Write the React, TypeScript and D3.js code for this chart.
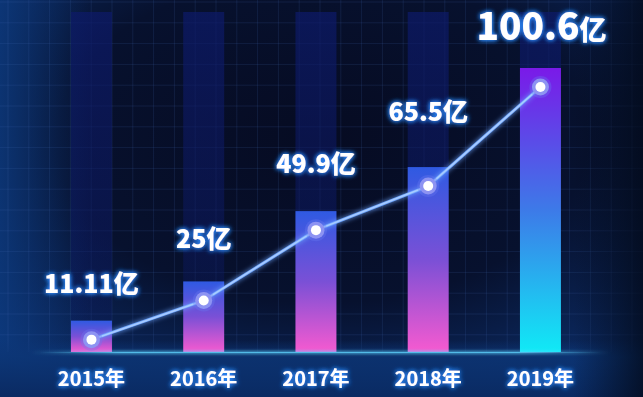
import React from "react";
import * as d3 from "d3";

const years = ["2015年", "2016年", "2017年", "2018年", "2019年"];
const values = [11.11, 25, 49.9, 65.5, 100.6];
const valueLabels = ["11.11", "25", "49.9", "65.5", "100.6"];
const unit = "亿";

const W = 643;
const H = 397;
const BASE = 352;
// label lift above each bar top (layout only)
const labelLift = [28, 33, 38, 46, 28];

export default function App() {
  const x = d3
    .scaleBand<string>()
    .domain(years)
    .range([37.3, 594.6])
    .paddingInner(0.635)
    .paddingOuter(0.3);
  const y = d3.scaleLinear().domain([0, 100.6]).range([BASE, 68]);
  const bw = x.bandwidth();

  const pts: [number, number][] = years.map((yr, i) => [
    (x(yr) as number) + bw / 2,
    y(values[i]) + 19,
  ]);
  const line = d3.line().curve(d3.curveLinear)(pts) as string;

  const gridX = d3.range(8, W, 20.8);
  const gridY = d3.range(2, BASE, 20.8);

  const font = "'Noto Sans CJK SC', 'Noto Sans', sans-serif";

  return (
    <svg width={W} height={H} style={{ position: "absolute", left: 0, top: 0, display: "block" }}>
      <defs>
        <radialGradient id="bg" cx="0.5" cy="0.35" r="0.75">
          <stop offset="0" stopColor="#060b22" />
          <stop offset="0.55" stopColor="#07112e" />
          <stop offset="1" stopColor="#0c2f6c" />
        </radialGradient>
        <linearGradient id="leftGlow" x1="0" x2="1" y1="0" y2="0">
          <stop offset="0" stopColor="#0d3c82" stopOpacity="0.75" />
          <stop offset="1" stopColor="#0d3c82" stopOpacity="0" />
        </linearGradient>
        <linearGradient id="rightShade" x1="0" x2="1" y1="0" y2="0">
          <stop offset="0" stopColor="#020816" stopOpacity="0" />
          <stop offset="1" stopColor="#020816" stopOpacity="0.75" />
        </linearGradient>
        <linearGradient id="bottomGlow" x1="0" x2="0" y1="0" y2="1">
          <stop offset="0" stopColor="#0c3575" stopOpacity="0" />
          <stop offset="0.3" stopColor="#0c3575" stopOpacity="0.85" />
          <stop offset="1" stopColor="#0a2a62" stopOpacity="1" />
        </linearGradient>
        <linearGradient id="col" x1="0" x2="0" y1="0" y2="1">
          <stop offset="0" stopColor="#0d1a6a" stopOpacity="0.7" />
          <stop offset="0.7" stopColor="#0d1a66" stopOpacity="0.45" />
          <stop offset="1" stopColor="#0d1a66" stopOpacity="0.15" />
        </linearGradient>
        <linearGradient id="barA" x1="0" x2="0" y1="0" y2="1">
          <stop offset="0" stopColor="#2f5ae2" />
          <stop offset="0.5" stopColor="#7a50d6" />
          <stop offset="1" stopColor="#f65ad0" />
        </linearGradient>
        <linearGradient id="barB" x1="0" x2="0" y1="0" y2="1">
          <stop offset="0" stopColor="#7a1ae8" />
          <stop offset="0.5" stopColor="#3d7ae8" />
          <stop offset="1" stopColor="#10eaf6" />
        </linearGradient>
        <linearGradient id="baseLine" x1="0" x2="1" y1="0" y2="0">
          <stop offset="0" stopColor="#5fd4ff" stopOpacity="0" />
          <stop offset="0.15" stopColor="#5fd4ff" stopOpacity="0.7" />
          <stop offset="0.85" stopColor="#5fd4ff" stopOpacity="0.7" />
          <stop offset="1" stopColor="#5fd4ff" stopOpacity="0" />
        </linearGradient>
        <filter id="glow" x="-30%" y="-60%" width="160%" height="220%">
          <feGaussianBlur in="SourceAlpha" stdDeviation="2.5" result="b" />
          <feFlood floodColor="#2f8cff" floodOpacity="1" />
          <feComposite in2="b" operator="in" result="g" />
          <feMerge>
            <feMergeNode in="g" />
            <feMergeNode in="g" />
            <feMergeNode in="SourceGraphic" />
          </feMerge>
        </filter>
        <filter id="lineGlow" x="-10%" y="-20%" width="120%" height="140%">
          <feGaussianBlur in="SourceGraphic" stdDeviation="2.5" result="b" />
          <feMerge>
            <feMergeNode in="b" />
            <feMergeNode in="SourceGraphic" />
          </feMerge>
        </filter>
        <filter id="soft" x="-20%" y="-400%" width="140%" height="900%">
          <feGaussianBlur stdDeviation="1.5" />
        </filter>
      </defs>

      <rect width={W} height={H} fill="url(#bg)" />
      <rect x={0} y={0} width={90} height={H} fill="url(#leftGlow)" />

      {/* grid */}
      <g stroke="#4a6db8" strokeOpacity={0.16} strokeWidth={1}>
        {gridX.map((gx) => (
          <line key={"gx" + gx} x1={gx} x2={gx} y1={0} y2={BASE} />
        ))}
        {gridY.map((gy) => (
          <line key={"gy" + gy} x1={0} x2={W} y1={gy} y2={gy} />
        ))}
      </g>

      {/* faded background columns */}
      {years.map((yr) => (
        <rect key={"c" + yr} x={x(yr)} y={12} width={bw} height={BASE - 12} fill="url(#col)" />
      ))}

      {/* bottom band */}
      <rect x={0} y={BASE - 12} width={W} height={H - BASE + 12} fill="url(#bottomGlow)" />
      <rect x={W - 70} y={0} width={70} height={H} fill="url(#rightShade)" />

      {/* bars */}
      {years.map((yr, i) => (
        <rect
          key={"b" + yr}
          x={x(yr)}
          y={y(values[i])}
          width={bw}
          height={BASE - y(values[i])}
          fill={i === years.length - 1 ? "url(#barB)" : "url(#barA)"}
        />
      ))}

      {/* baseline glow */}
      <rect x={30} y={BASE - 1} width={580} height={3} fill="url(#baseLine)" filter="url(#soft)" />
      <rect x={40} y={BASE} width={560} height={1} fill="url(#baseLine)" />

      {/* line */}
      <path d={line} fill="none" stroke="#6fa6ff" strokeWidth={3} filter="url(#lineGlow)" />
      <path d={line} fill="none" stroke="#a9ccff" strokeWidth={1.6} />

      {pts.map(([px, py], i) => (
        <g key={"p" + i}>
          <circle cx={px} cy={py} r={11} fill="#6a78f0" opacity={0.35} />
          <circle cx={px} cy={py} r={8.5} fill="#8d93f2" />
          <circle cx={px} cy={py} r={5} fill="#ffffff" />
        </g>
      ))}

      {/* value labels */}
      {years.map((yr, i) => {
        const last = i === years.length - 1;
        const cx = (x(yr) as number) + bw / 2 + (last ? 1 : 0);
        const ly = y(values[i]) - labelLift[i];
        return (
          <text
            key={"v" + yr}
            x={cx}
            y={ly}
            textAnchor="middle"
            fill="#ffffff"
            fontFamily={font}
            fontWeight={900}
            fontSize={last ? 37 : 25}
            filter="url(#glow)"
          >
            {valueLabels[i]}
            <tspan fontSize={last ? 27 : 25}>{unit}</tspan>
          </text>
        );
      })}

      {/* x labels */}
      {years.map((yr) => (
        <text
          key={"x" + yr}
          x={(x(yr) as number) + bw / 2}
          y={386}
          textAnchor="middle"
          fill="#ffffff"
          fontFamily={font}
          fontWeight={700}
          fontSize={20}
          filter="url(#glow)"
        >
          {yr}
        </text>
      ))}
    </svg>
  );
}
